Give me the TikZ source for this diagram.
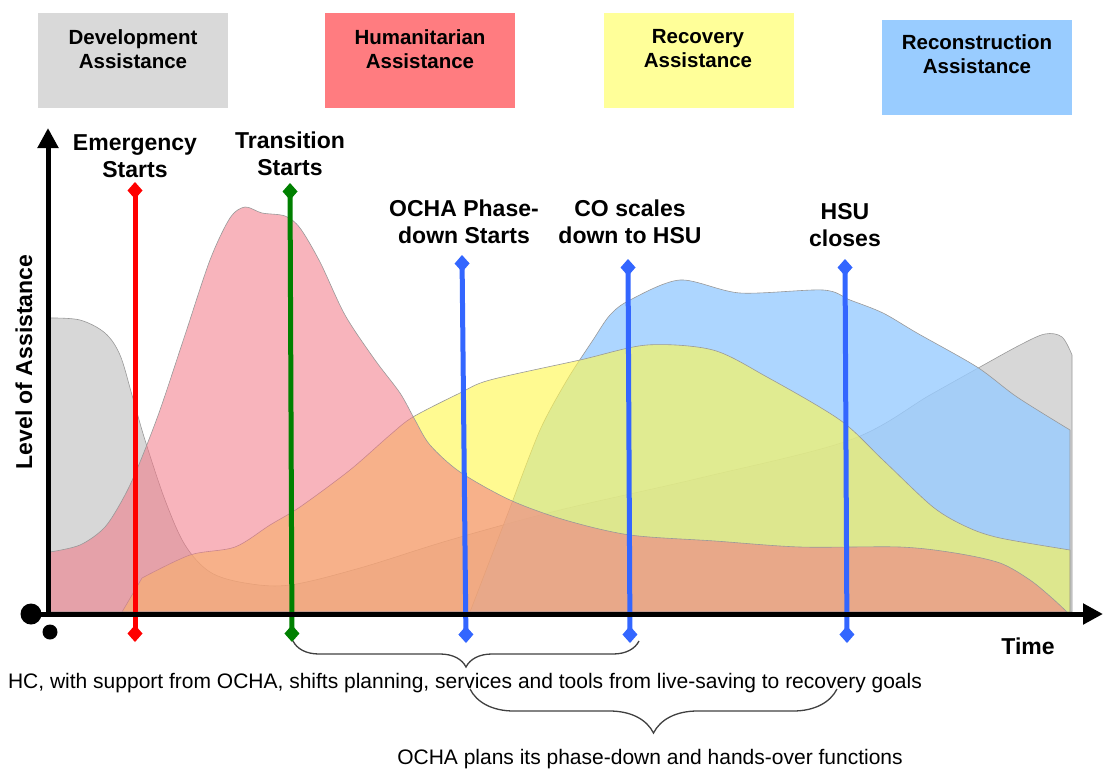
\documentclass[tikz,border=0pt]{standalone}
\usepackage{fontspec}
\setmainfont{Liberation Sans}
\usetikzlibrary{arrows.meta,decorations.pathreplacing}

\definecolor{devgray}{RGB}{217,217,217}
\definecolor{humpink}{RGB}{255,124,128}
\definecolor{recyellow}{RGB}{255,255,153}
\definecolor{conblue}{RGB}{153,204,255}
\definecolor{areagray}{RGB}{215,215,215}
\definecolor{areapink}{RGB}{242,118,133}
\definecolor{areayellow}{RGB}{255,247,81}
\definecolor{evred}{RGB}{255,0,0}
\definecolor{evgreen}{RGB}{0,128,0}
\definecolor{evblue}{RGB}{51,102,255}

\begin{document}
\begin{tikzpicture}[x=1pt, y=-1pt,
    phasebox/.style={rectangle, anchor=north west, minimum width=190pt, minimum height=95pt, inner sep=0pt},
    phasetext/.style={align=center, font=\fontsize{20.5}{24}\selectfont\bfseries},
    evlabel/.style={align=center, font=\fontsize{23}{27}\selectfont\bfseries},
    evline/.style={line width=5pt, {Turned Square[length=17pt,width=15pt]}-{Turned Square[length=17pt,width=15pt]}},
    areastyle/.style={draw=black!40, line width=0.6pt, line join=round},
    axis/.style={line width=5pt, -{Triangle[length=20pt,width=20pt]}},
    notebrace/.style={decorate, draw=black!75, line width=1.3pt},
    notetext/.style={font=\fontsize{21}{24}\selectfont}
]
\useasboundingbox (0,0) rectangle (1104,772);

% Phase boxes
\node[phasebox, fill=devgray]   (devbox) at (38,13) {};
\node[phasebox, fill=humpink]   (humbox) at (325,13) {};
\node[phasebox, fill=recyellow] (recbox) at (604,13) {};
\node[phasebox, fill=conblue]   (conbox) at (882,20) {};
\node[phasetext] (devtext) at (133,49) {Development\\Assistance};
\node[phasetext] (humtext) at (420,49) {Humanitarian\\Assistance};
\node[phasetext] (rectext) at (698,49) {Recovery\\Assistance};
\node[phasetext] (context) at (977,54) {Reconstruction\\Assistance};

% Assistance areas
\filldraw[areastyle, fill=areagray] (50,612) -- plot[smooth, tension=0.55] coordinates {
    (50,318) (80,320) (105,333) (120,355) (132,395) (145,440) (165,500) (185,545)
    (210,572) (245,583) (290,585) (360,568) (450,540) (560,510) (700,478) (850,440)
    (930,395) (980,367) (1020,345) (1045,334) (1062,337) (1072,355)} -- (1072,612) -- cycle;
\filldraw[areastyle, fill=conblue, fill opacity=0.8] (470,612) -- plot[smooth, tension=0.5] coordinates {
    (513,500) (540,430) (567,380) (593,340) (610,315) (630,300) (680,280) (740,293)
    (823,290) (850,300) (883,313) (917,333) (977,367) (1017,397) (1070,430)} -- (1070,612) -- cycle;
\filldraw[areastyle, fill=areayellow, fill opacity=0.63] (122,612) -- plot[smooth, tension=0.5] coordinates {
    (142,578) (190,555) (235,547) (270,525) (300,507) (350,470) (390,435) (413,417)
    (460,393) (490,380) (580,360) (647,345) (713,350) (767,377) (840,420) (883,460)
    (933,507) (967,527) (1000,538) (1070,550)} -- (1070,612) -- cycle;
\filldraw[areastyle, fill=areapink, fill opacity=0.55] (50,612) -- plot[smooth, tension=0.5] coordinates {
    (50,552) (80,545) (105,527) (125,495) (140,462) (160,410) (185,335) (210,260)
    (230,218) (245,207) (262,213) (285,216) (300,228) (320,262) (345,315) (375,360)
    (400,393) (415,420) (430,445) (460,472) (510,500) (565,520) (630,535) (715,541)
    (800,547) (900,547) (955,553) (1000,563) (1030,580) (1052,598) (1067,612)} -- cycle;

% Events
\coordinate (emtop) at (135,182);  \coordinate (embot) at (135,642);
\coordinate (trtop) at (290,183);  \coordinate (trbot) at (292,642);
\coordinate (ochatop) at (462,255); \coordinate (ochabot) at (466,643);
\coordinate (cotop) at (628,259);  \coordinate (cobot) at (630,643);
\coordinate (hsutop) at (845,259); \coordinate (hsubot) at (847,643);
\draw[evline, evred]   (emtop) -- (embot);
\draw[evline, evgreen] (trtop) -- (trbot);
\draw[evline, evblue]  (ochatop) -- (ochabot);
\draw[evline, evblue]  (cotop) -- (cobot);
\draw[evline, evblue]  (hsutop) -- (hsubot);
\node[evlabel] (emlabel) at (135,156) {Emergency\\Starts};
\node[evlabel] (trlabel) at (290,154) {Transition\\Starts};
\node[evlabel] (ochalabel) at (464,222) {OCHA Phase-\\down Starts};
\node[evlabel] (colabel) at (630,222) {CO scales\\down to HSU};
\node[evlabel] (hsulabel) at (845,225) {HSU\\closes};

% Axes
\node[circle, fill=black, minimum size=21pt, inner sep=0pt] (bigdot) at (31,614) {};
\node[circle, fill=black, minimum size=15pt, inner sep=0pt] (smalldot) at (50,632) {};
\coordinate (ytip) at (48,128);
\coordinate (xtip) at (1103,614);
\draw[axis] (48,616.5) -- (ytip);
\draw[axis] (bigdot.center) -- (xtip);
\node[evlabel, rotate=90] (ylabel) at (24,362) {Level of Assistance};
\node[evlabel] (xlabel) at (1028,646) {Time};

% Notes
\coordinate (hcleft) at (293,641);  \coordinate (hcright) at (639,641);
\coordinate (ocleft) at (470,689);  \coordinate (ocright) at (837,689);
\draw[notebrace, decoration={brace, mirror, amplitude=26pt}] (hcleft) -- (hcright);
\draw[notebrace, decoration={brace, mirror, amplitude=44pt}] (ocleft) -- (ocright);
\node[notetext] (hcnote) at (465,683) {HC, with support from OCHA, shifts planning, services and tools from live-saving to recovery goals};
\node[notetext] (ocnote) at (650,759) {OCHA plans its phase-down and hands-over functions};

\end{tikzpicture}
\end{document}
